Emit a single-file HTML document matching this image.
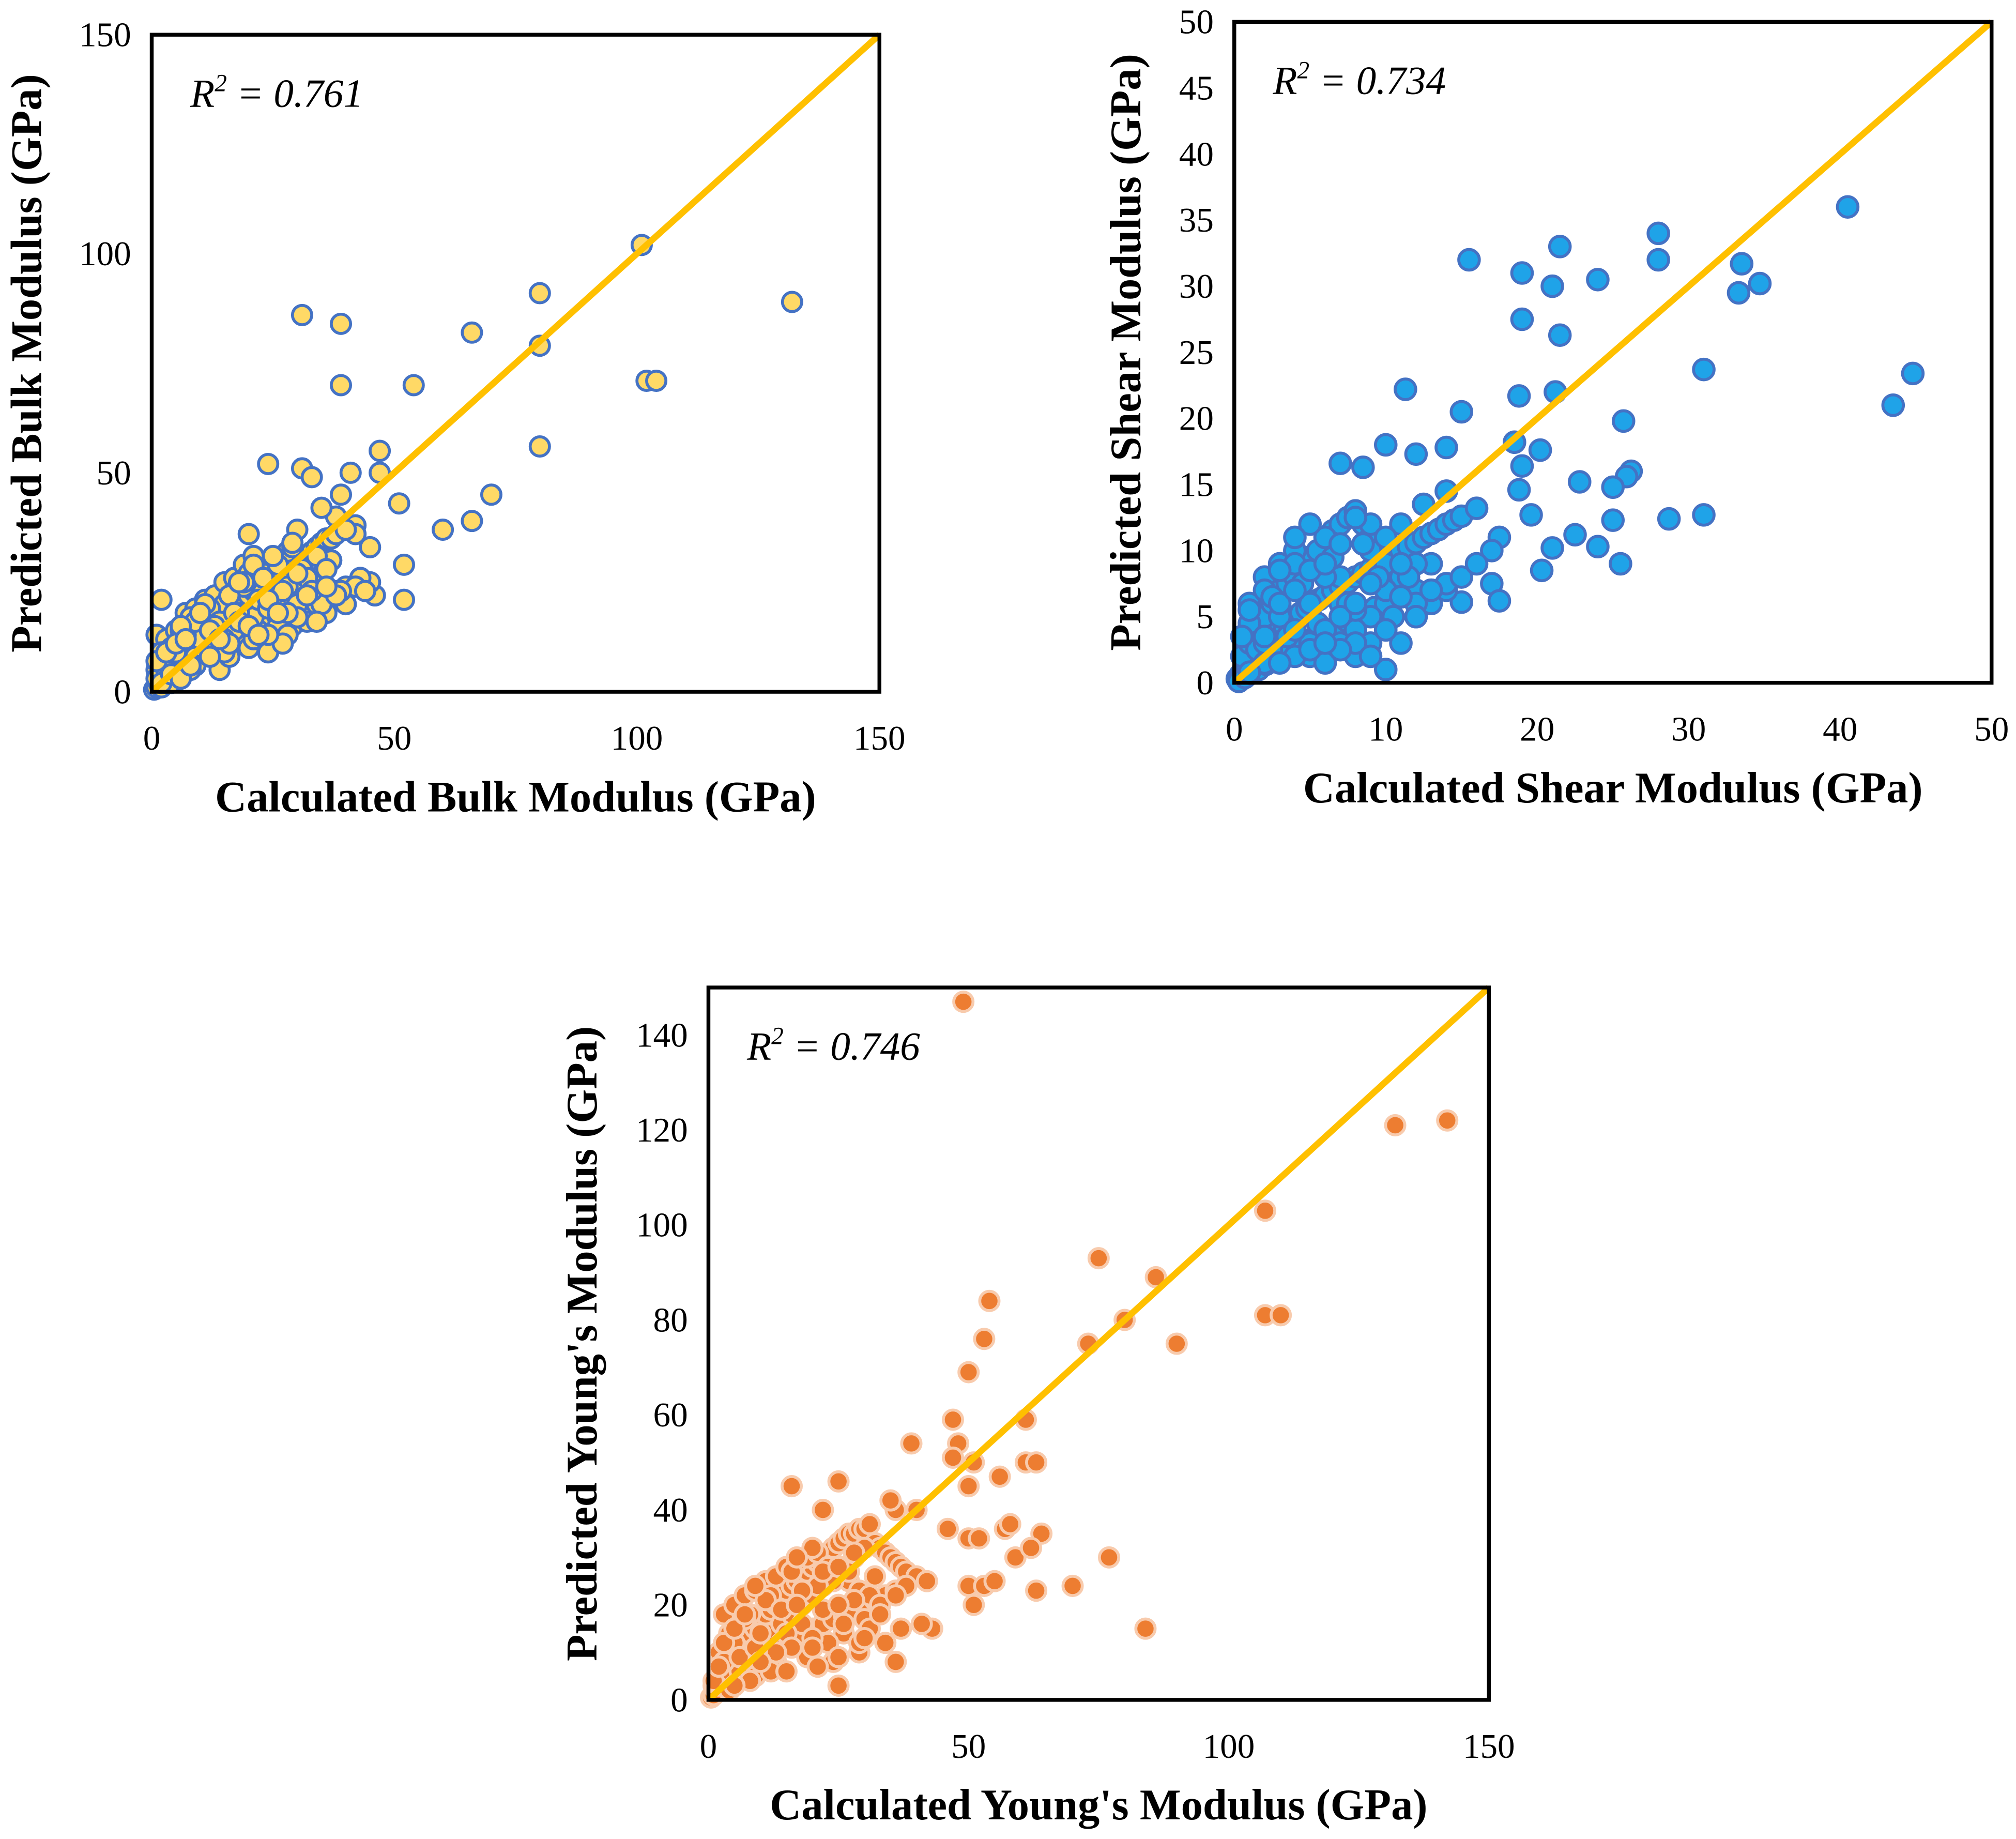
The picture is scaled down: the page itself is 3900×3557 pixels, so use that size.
<!DOCTYPE html>
<html><head><meta charset="utf-8">
<style>
html,body{margin:0;padding:0;background:#fff;}
svg{display:block;}
text{font-family:"Liberation Serif",serif;fill:#000;}
.tick{font-size:27px;}
.title{font-size:34px;font-weight:bold;}
.r2{font-size:31px;font-style:italic;}
</style></head>
<body>
<svg id="root" width="3900" height="3557" viewBox="0 0 1568 1430.2" preserveAspectRatio="none" xmlns="http://www.w3.org/2000/svg"></svg>
<script>
// ---- Data: Bulk modulus (calculated, predicted) ----
const bulkX = [101,80,31,39,66,80,39,54,102,104,132,80,24,31,47,41,47,33,70,51,39,60,66,52,52,46,45,45,42,42,38,35,20,30,
 2,3,4,5,6,7,8,9,10,11,12,13,14,15,16,17,18,19,20,21,22,23,24,25,26,27,28,29,30,31,32,33,34,35,36,37,38,40,
 1,2,3,4,5,6,7,8,9,10,12,14,16,18,20,22,24,26,28,30,32,34,36,38,40,43,
 1,2,3,4,6,8,10,12,14,16,18,20,22,25,28,31,34,37,
 0.5,1,1.5,2,2.5,3,1,2,3,5,7,9,11,13,15,17,19,21,23,25,27,29,31,33,35,
 2,4,6,8,10,12,14,16,18,20,22,24,26,28,30,32,34,36,38,40,42,44];
const bulkY = [102,91,86,84,82,79,70,70,71,71,89,56,52,51,55,50,50,49,45,43,45,37,39,29,21,22,25,33,38,36,40,42,36,37,
 3,4,5,6,8,9,10,11,12,13,14,15,16,17,18,19,20,21,22,23,24,25,26,26,27,27,28,29,30,31,31,32,33,34,35,35,36,37,
 1,2,3,4,5,6,6,7,8,9,10,11,12,13,14,15,16,17,18,19,20,21,22,23,24,26,
 5,7,9,11,13,15,17,19,21,23,25,27,29,30,32,28,26,30,
 0.5,1,2,1,3,2,13,21,12,14,18,19,21,22,25,26,29,31,23,20,17,15,24,21,18,
 9,8,10,7,9,11,5,8,12,10,14,9,15,13,17,16,20,18,22,20,24,23];
const bulkX2 = [3,5,7,9,11,13,15,17,19,21,23,25,27,29,31,33,35,37,39,2,4,6,8,10,12,14,16,18,20,22,24,26,28,30,32,34,36,38,1,3,5,7,9,11,13,15,17,19,21,23,25,27,29,6,9,12,15,18,21,24,27,30,33,4,8,12,16,20,24,28,32,36,10,14,18,22,26,30,34,1,2,3,4,5,6,7,8];
const bulkY2 = [6,9,12,8,15,11,20,14,24,17,27,19,22,33,28,25,20,30,23,7,10,14,17,12,19,16,22,18,27,21,19,29,24,20,26,31,28,22,3,5,9,13,16,20,15,12,18,25,29,26,31,23,34,15,6,14,9,16,12,21,11,17,23,2,5,8,11,15,13,18,22,24,18,12,25,13,18,27,16,7,2,9,4,11,3,12,6];
// ---- Data: Shear modulus ----
const shearX = [40.5,28,21.5,15.5,28,33.5,19,21,24,34.7,33.3,19,21.5,31,44.8,43.5,11.3,21.2,18.8,15,25.7,10,12,14,18.5,20.2,7,8.5,19,26.2,25.9,18.8,25,22.8,31,28.7,25,19.6,22.5,24,21,20.3,25.5,17.5,17,17.5,10,15,
 0.2,0.4,0.6,0.8,1,1.2,1.5,1.8,2,2.3,2.6,3,3.3,3.6,4,4.4,4.8,5.2,5.6,6,6.5,7,7.5,8,8.5,9,9.5,10,10.5,11,11.5,12,12.5,13,13.5,14,14.5,15,16,17,
 0.5,1,1.5,2,2.5,3,3.5,4,4.5,5,5.5,6,6.5,7,7.5,8,8.5,9,9.5,10,11,12,13,14,
 0.3,0.7,1.1,1.6,2.1,2.7,3.2,3.8,4.3,5,5.6,6.2,6.8,7.4,8,8.7,9.3,10,11,12,13,14,15,16,
 1,2,3,4,5,6,7,8,9,10,11,12,13,5,6,7,8,9,3,4];
const shearY = [36,34,33,32,32,31.7,31,30,30.5,30.2,29.5,27.5,26.3,23.7,23.4,21,22.2,22,21.7,20.5,19.8,18,17.3,17.8,18.2,17.6,16.6,16.3,16.4,16,15.6,14.6,14.8,15.2,12.7,12.4,12.3,12.7,11.2,10.3,10.2,8.5,9,11,7.5,6.2,1,6.1,
 0.3,0.6,1,1.3,1.6,2,2.3,2.6,3,3.3,3.6,4,4.3,4.6,5,5.3,5.6,6,6.3,6.6,7,7.3,7.6,8,8.3,8.6,9,9.3,9.6,10,10.3,10.6,11,11.3,11.6,12,12.3,12.6,13.2,10,
 2,3,4,5,6,7,7.5,8,9,9.5,10,11,11.5,12,12.5,13,12,11,10,9,8,9,7,7,
 0.1,0.4,0.7,1,1.4,1.8,2.2,2.5,2.9,3.2,3.6,4,4.3,4.7,5,5.3,5.7,6,6.5,7,6,7.5,8,9,
 6,8,9,10,3,4,6,2,5,7,3,6,9,2,1.5,3,4,3,9,10];
const shearX2 = [1,2,3,4,5,6,7,8,9,10,11,12,1.5,2.5,3.5,4.5,5.5,6.5,7.5,8.5,9.5,10.5,11.5,12.5,0.5,1,2,3,4,5,6,7,8,9,10,11,2,4,6,8,10,12,14,3,5,7,9,11,13,1,2,3,4,5,6,7,8,9,4,6,8,10,12];
const shearY2 = [4.5,7,5,9,6,11,8,13,10,7,12,9,2.5,6.5,3.5,7.5,4.5,9.5,6,10.5,8,5,8,13.5,3.5,5.5,1.5,8.5,2,12,4,10.5,5.5,12,4,6.5,3,4,8,3,11,5,14.5,1.5,2.5,5,2,9,7,0.8,3.5,6,7,8.5,9,2.5,6,7.5,11,3,12.5,4,5];
// ---- Data: Young's modulus ----
const youngX = [49,142,132,107,75,86,54,107,110,80,73,90,53,50,47,61,48,47,51,61,63,39,40,56,36,25,16,35,50,57,58,64,46,50,52,59,77,62,50,53,55,70,51,63,84,43,41,36,25,22,
 1,2,3,4,5,6,7,8,9,10,11,12,13,14,15,16,17,18,19,20,21,22,23,24,25,26,27,28,29,30,31,32,33,34,35,36,37,38,40,42,
 1,2,3,4,5,6,7,8,9,10,12,14,16,18,20,22,24,26,28,30,32,34,36,38,
 0.5,1,1.5,2,3,4,5,6,8,10,12,14,16,18,20,22,24,26,28,30,
 3,5,7,9,11,13,15,17,19,21,23,25,27,29,31,33];
const youngY = [147,122,121,103,93,89,84,81,81,80,75,75,76,69,59,59,54,51,50,50,50,54,40,47,40,46,45,42,45,36,37,35,36,34,34,30,30,32,24,24,25,24,20,23,15,15,16,8,3,40,
 3,5,7,8,10,11,13,14,15,17,18,19,20,21,23,24,25,26,27,28,29,30,31,32,33,34,35,35,36,36,37,33,32,31,30,29,28,27,26,25,
 1,2,3,4,5,6,7,8,9,10,11,12,13,14,15,16,17,18,19,20,21,22,23,24,
 0.5,1,2,3,4,6,8,9,10,12,14,16,18,20,22,24,26,28,30,32,
 18,20,22,23,25,26,28,29,30,31,28,27,25,23,22,20];
const youngX2 = [2,4,6,8,10,12,14,16,18,20,22,24,26,28,30,32,34,36,3,5,7,9,11,13,15,17,19,21,23,25,27,29,31,1,2,3,4,5,6,7,8,9,10,12,14,16,18,20,22,24,26,28,9,13,17,21,25,29,33,37,5,10,15,20,25,30];
const youngY2 = [10,14,6,18,9,22,12,27,16,32,19,25,14,21,17,26,12,22,8,12,17,5,21,8,14,30,9,24,12,20,27,10,15,4,7,12,2,15,9,18,4,11,14,6,19,11,23,13,27,8,16,31,24,10,20,7,28,12,18,15,3,8,6,11,9,13];

const bulkTicks=[0,50,100,150], shearTicksX=[0,10,20,30,40,50], shearTicksY=[0,5,10,15,20,25,30,35,40,45,50];
const youngTicksX=[0,50,100,150], youngTicksY=[0,20,40,60,80,100,120,140];

const NS="http://www.w3.org/2000/svg";
const root=document.getElementById('root');
function mk(tag,attrs,parent){const e=document.createElementNS(NS,tag);for(const k in attrs)e.setAttribute(k,attrs[k]);(parent||root).appendChild(e);return e;}

function chart(cfg){
  const g=mk('g',{});
  
  
  const sx=v=>cfg.x0+v/cfg.max*(cfg.x1-cfg.x0);
  const sy=v=>cfg.y0-v/cfg.max*(cfg.y0-cfg.y1);
  for(let i=0;i<cfg.xs.length;i++){
    const c=mk('circle',{cx:sx(cfg.xs[i]),cy:sy(cfg.ys[i]),r:cfg.r,fill:cfg.fill,stroke:cfg.stroke,'stroke-width':2.3},g);
    
    
  }
  const ln=mk('line',{x1:sx(0),y1:sy(0),x2:sx(cfg.max),y2:sy(cfg.max),stroke:'#FFC000','stroke-width':5},g);
  
  
  const bx=mk('rect',{x:cfg.x0,y:cfg.y1,width:cfg.x1-cfg.x0,height:cfg.y0-cfg.y1,fill:'none',stroke:'#000','stroke-width':3},g);
  
  
  cfg.tx.forEach(t=>{const e=mk('text',{x:sx(t),y:cfg.y0+45,'text-anchor':'middle',class:'tick'},g);e.textContent=t;
    
    });
  cfg.ty.forEach(t=>{const e=mk('text',{x:cfg.x0-16,y:sy(t)+9,'text-anchor':'end',class:'tick'},g);e.textContent=t;
    
    });
  const xt=mk('text',{x:(cfg.x0+cfg.x1)/2,y:cfg.y0+93,'text-anchor':'middle',class:'title'},g);xt.textContent=cfg.xt;
  
  
  const yx=cfg.ytx, yy=(cfg.y0+cfg.y1)/2;
  const yt=mk('text',{x:yx,y:yy,'text-anchor':'middle',class:'title',transform:`rotate(-90 ${yx} ${yy})`},g);yt.textContent=cfg.yt;
  
  
  const r=mk('text',{x:cfg.x0+30,y:cfg.y1+56,class:'r2'},g);
  r.innerHTML='R<tspan dy="-12" font-size="19">2</tspan><tspan dy="12"> = '+cfg.r2+'</tspan>';
  
  
}
chart({name:'bulk-modulus-chart',x0:118,x1:684,y0:538,y1:27,max:150,xs:bulkX.concat(bulkX2),ys:bulkY.concat(bulkY2),r:7.5,fill:'#FFD966',stroke:'#4472C4',
  tx:bulkTicks,ty:bulkTicks,xt:'Calculated Bulk Modulus (GPa)',yt:'Predicted Bulk Modulus (GPa)',ytx:32,r2:'0.761'});
chart({name:'shear-modulus-chart',x0:960,x1:1549,y0:531,y1:17,max:50,xs:shearX.concat(shearX2),ys:shearY.concat(shearY2),r:8,fill:'#1FA3E8',stroke:'#4472C4',
  tx:shearTicksX,ty:shearTicksY,xt:'Calculated Shear Modulus (GPa)',yt:'Predicted Shear Modulus (GPa)',ytx:887,r2:'0.734'});
chart({name:'youngs-modulus-chart',x0:551,x1:1158,y0:1322,y1:768,max:150,xs:youngX.concat(youngX2),ys:youngY.concat(youngY2),r:7.5,fill:'#ED7D31',stroke:'#F8CBAD',
  tx:youngTicksX,ty:youngTicksY,xt:"Calculated Young's Modulus (GPa)",yt:"Predicted Young's Modulus (GPa)",ytx:464,r2:'0.746'});
</script>
</body></html>
